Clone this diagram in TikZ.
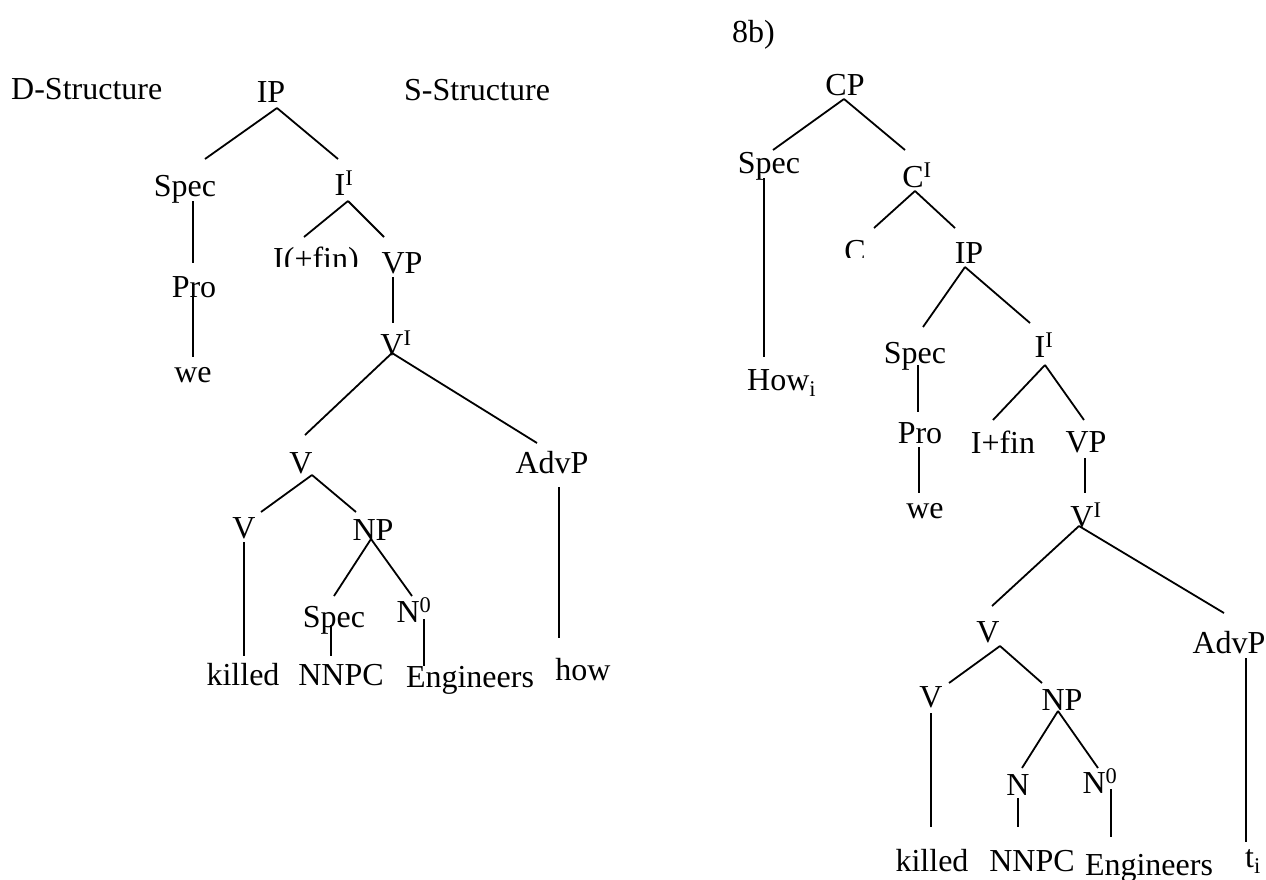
\documentclass[tikz,border=0pt]{standalone}
\usepackage{fontspec}
\setmainfont{Liberation Serif}
\begin{document}
\begin{tikzpicture}[x=1pt,y=-1pt,
  font=\fontsize{32}{38}\selectfont,
  lbl/.style={inner sep=0pt,anchor=base},
  lblw/.style={inner sep=0pt,anchor=base west},
  branch/.style={line width=1.8pt,line cap=butt}]
\useasboundingbox[fill=white] (0,0) rectangle (1266,879);

% ---------- left tree (D-structure) ----------
\node[lblw] (dstr) at (11,99) {D-Structure};
\node[lblw] (sstr) at (404,100) {S-Structure};
\node[lbl] (ipL) at (271,102) {IP};
\node[lbl] (specL) at (185,196) {Spec};
\node[lbl] (ibarL) at (344,195) {I\textsuperscript{I}};
\begin{scope}
  \clip (260,225) rectangle (375,266);
  \node[lbl] (ifinL) at (316,269) {I(+fin)};
\end{scope}
\node[lbl] (vpL) at (402,273) {VP};
\node[lbl] (proL) at (194,297) {Pro};
\node[lbl] (weL) at (193,382) {we};
\node[lbl] (vbarL) at (396,355) {V\textsuperscript{I}};
\node[lbl] (vL) at (301,473) {V};
\node[lbl] (advpL) at (552,473) {AdvP};
\node[lbl] (vvL) at (244,538) {V};
\node[lbl] (npL) at (373,540) {NP};
\node[lbl] (spec2L) at (334,627) {Spec};
\node[lbl] (n0L) at (414,622) {N\textsuperscript{0}};
\node[lbl] (killedL) at (243,685) {killed};
\node[lbl] (nnpcL) at (341,685) {NNPC};
\node[lbl] (engL) at (470,687) {Engineers};
\node[lbl] (howL) at (583,680) {how};

\draw[branch] ([shift={(6,6)}]ipL.base) -- ([shift={(20,-37)}]specL.base);
\draw[branch] ([shift={(6,6)}]ipL.base) -- ([shift={(-6,-36)}]ibarL.base);
\draw[branch] ([shift={(8,5)}]specL.base) -- ([shift={(-1,-34)}]proL.base);
\draw[branch] ([shift={(-1,-4)}]proL.base) -- ([shift={(0,-25)}]weL.base);
\draw[branch] ([shift={(4,6)}]ibarL.base) -- ([shift={(-12,-32)}]ifinL.base);
\draw[branch] ([shift={(4,6)}]ibarL.base) -- ([shift={(-18,-36)}]vpL.base);
\draw[branch] ([shift={(-9,4)}]vpL.base) -- ([shift={(-3,-32)}]vbarL.base);
\draw[branch] ([shift={(-4,-2)}]vbarL.base) -- ([shift={(4,-38)}]vL.base);
\draw[branch] ([shift={(-4,-2)}]vbarL.base) -- ([shift={(-15,-30)}]advpL.base);
\draw[branch] ([shift={(11,2)}]vL.base) -- ([shift={(17,-26)}]vvL.base);
\draw[branch] ([shift={(11,2)}]vL.base) -- ([shift={(-17,-28)}]npL.base);
\draw[branch] ([shift={(0,4)}]vvL.base) -- ([shift={(1,-29)}]killedL.base);
\draw[branch] ([shift={(-2,-1)}]npL.base) -- ([shift={(0,-31)}]spec2L.base);
\draw[branch] ([shift={(-2,-1)}]npL.base) -- ([shift={(-2,-26)}]n0L.base);
\draw[branch] ([shift={(-3,-2)}]spec2L.base) -- ([shift={(-10,-29)}]nnpcL.base);
\draw[branch] ([shift={(10,-3)}]n0L.base) -- ([shift={(-46,-21)}]engL.base);
\draw[branch] ([shift={(7,14)}]advpL.base) -- ([shift={(-24,-42)}]howL.base);

% ---------- right tree (8b, S-structure) ----------
\node[lblw] (lab8b) at (732,42) {8b)};
\node[lbl] (cpR) at (845,95) {CP};
\node[lbl] (specR) at (769,173) {Spec};
\node[lbl] (cbarR) at (917,187) {C\textsuperscript{I}};
\begin{scope}
  \clip (830,225) rectangle (885,257);
  \node[lbl] (cR) at (855,261) {C};
\end{scope}
\node[lbl] (ipR) at (969,263) {IP};
\node[lblw] (howR) at (747,390) {How\textsubscript{i}};
\node[lbl] (spec2R) at (915,363) {Spec};
\node[lbl] (ibarR) at (1044,357) {I\textsuperscript{I}};
\node[lbl] (proR) at (920,443) {Pro};
\node[lbl] (ifinR) at (1003,453) {I+fin};
\node[lbl] (vpR) at (1086,452) {VP};
\node[lbl] (weR) at (925,518) {we};
\node[lbl] (vbarR) at (1086,527) {V\textsuperscript{I}};
\node[lbl] (vR) at (988,642) {V};
\node[lbl] (advpR) at (1229,653) {AdvP};
\node[lbl] (vvR) at (931,707) {V};
\node[lbl] (npR) at (1062,710) {NP};
\node[lbl] (nR) at (1018,795) {N};
\node[lbl] (n0R) at (1100,793) {N\textsuperscript{0}};
\node[lbl] (killedR) at (932,871) {killed};
\node[lbl] (nnpcR) at (1032,871) {NNPC};
\node[lbl] (engR) at (1149,875) {Engineers};
\node[lblw] (tR) at (1245,867) {t\textsubscript{i}};

\draw[branch] ([shift={(-1,4)}]cpR.base) -- ([shift={(4,-23)}]specR.base);
\draw[branch] ([shift={(-1,4)}]cpR.base) -- ([shift={(-12,-37)}]cbarR.base);
\draw[branch] ([shift={(-5,5)}]specR.base) -- ([shift={(17,-33)}]howR.base west);
\draw[branch] ([shift={(-2,4)}]cbarR.base) -- ([shift={(19,-33)}]cR.base);
\draw[branch] ([shift={(-2,4)}]cbarR.base) -- ([shift={(-14,-35)}]ipR.base);
\draw[branch] ([shift={(-4,4)}]ipR.base) -- ([shift={(8,-36)}]spec2R.base);
\draw[branch] ([shift={(-4,4)}]ipR.base) -- ([shift={(-14,-34)}]ibarR.base);
\draw[branch] ([shift={(3,2)}]spec2R.base) -- ([shift={(-2,-31)}]proR.base);
\draw[branch] ([shift={(1,8)}]ibarR.base) -- ([shift={(-10,-33)}]ifinR.base);
\draw[branch] ([shift={(1,8)}]ibarR.base) -- ([shift={(-2,-32)}]vpR.base);
\draw[branch] ([shift={(-1,4)}]proR.base) -- ([shift={(-6,-25)}]weR.base);
\draw[branch] ([shift={(-1,6)}]vpR.base) -- ([shift={(-1,-34)}]vbarR.base);
\draw[branch] ([shift={(-7,-1)}]vbarR.base) -- ([shift={(4,-36)}]vR.base);
\draw[branch] ([shift={(-7,-1)}]vbarR.base) -- ([shift={(-5,-40)}]advpR.base);
\draw[branch] ([shift={(12,4)}]vR.base) -- ([shift={(18,-24)}]vvR.base);
\draw[branch] ([shift={(12,4)}]vR.base) -- ([shift={(-20,-27)}]npR.base);
\draw[branch] ([shift={(0,6)}]vvR.base) -- ([shift={(-1,-44)}]killedR.base);
\draw[branch] ([shift={(-4,1)}]npR.base) -- ([shift={(4,-27)}]nR.base);
\draw[branch] ([shift={(-4,1)}]npR.base) -- ([shift={(-2,-25)}]n0R.base);
\draw[branch] ([shift={(0,3)}]nR.base) -- ([shift={(-14,-44)}]nnpcR.base);
\draw[branch] ([shift={(11,-4)}]n0R.base) -- ([shift={(-38,-38)}]engR.base);
\draw[branch] ([shift={(17,5)}]advpR.base) -- ([shift={(1,-25)}]tR.base west);
\end{tikzpicture}
\end{document}
